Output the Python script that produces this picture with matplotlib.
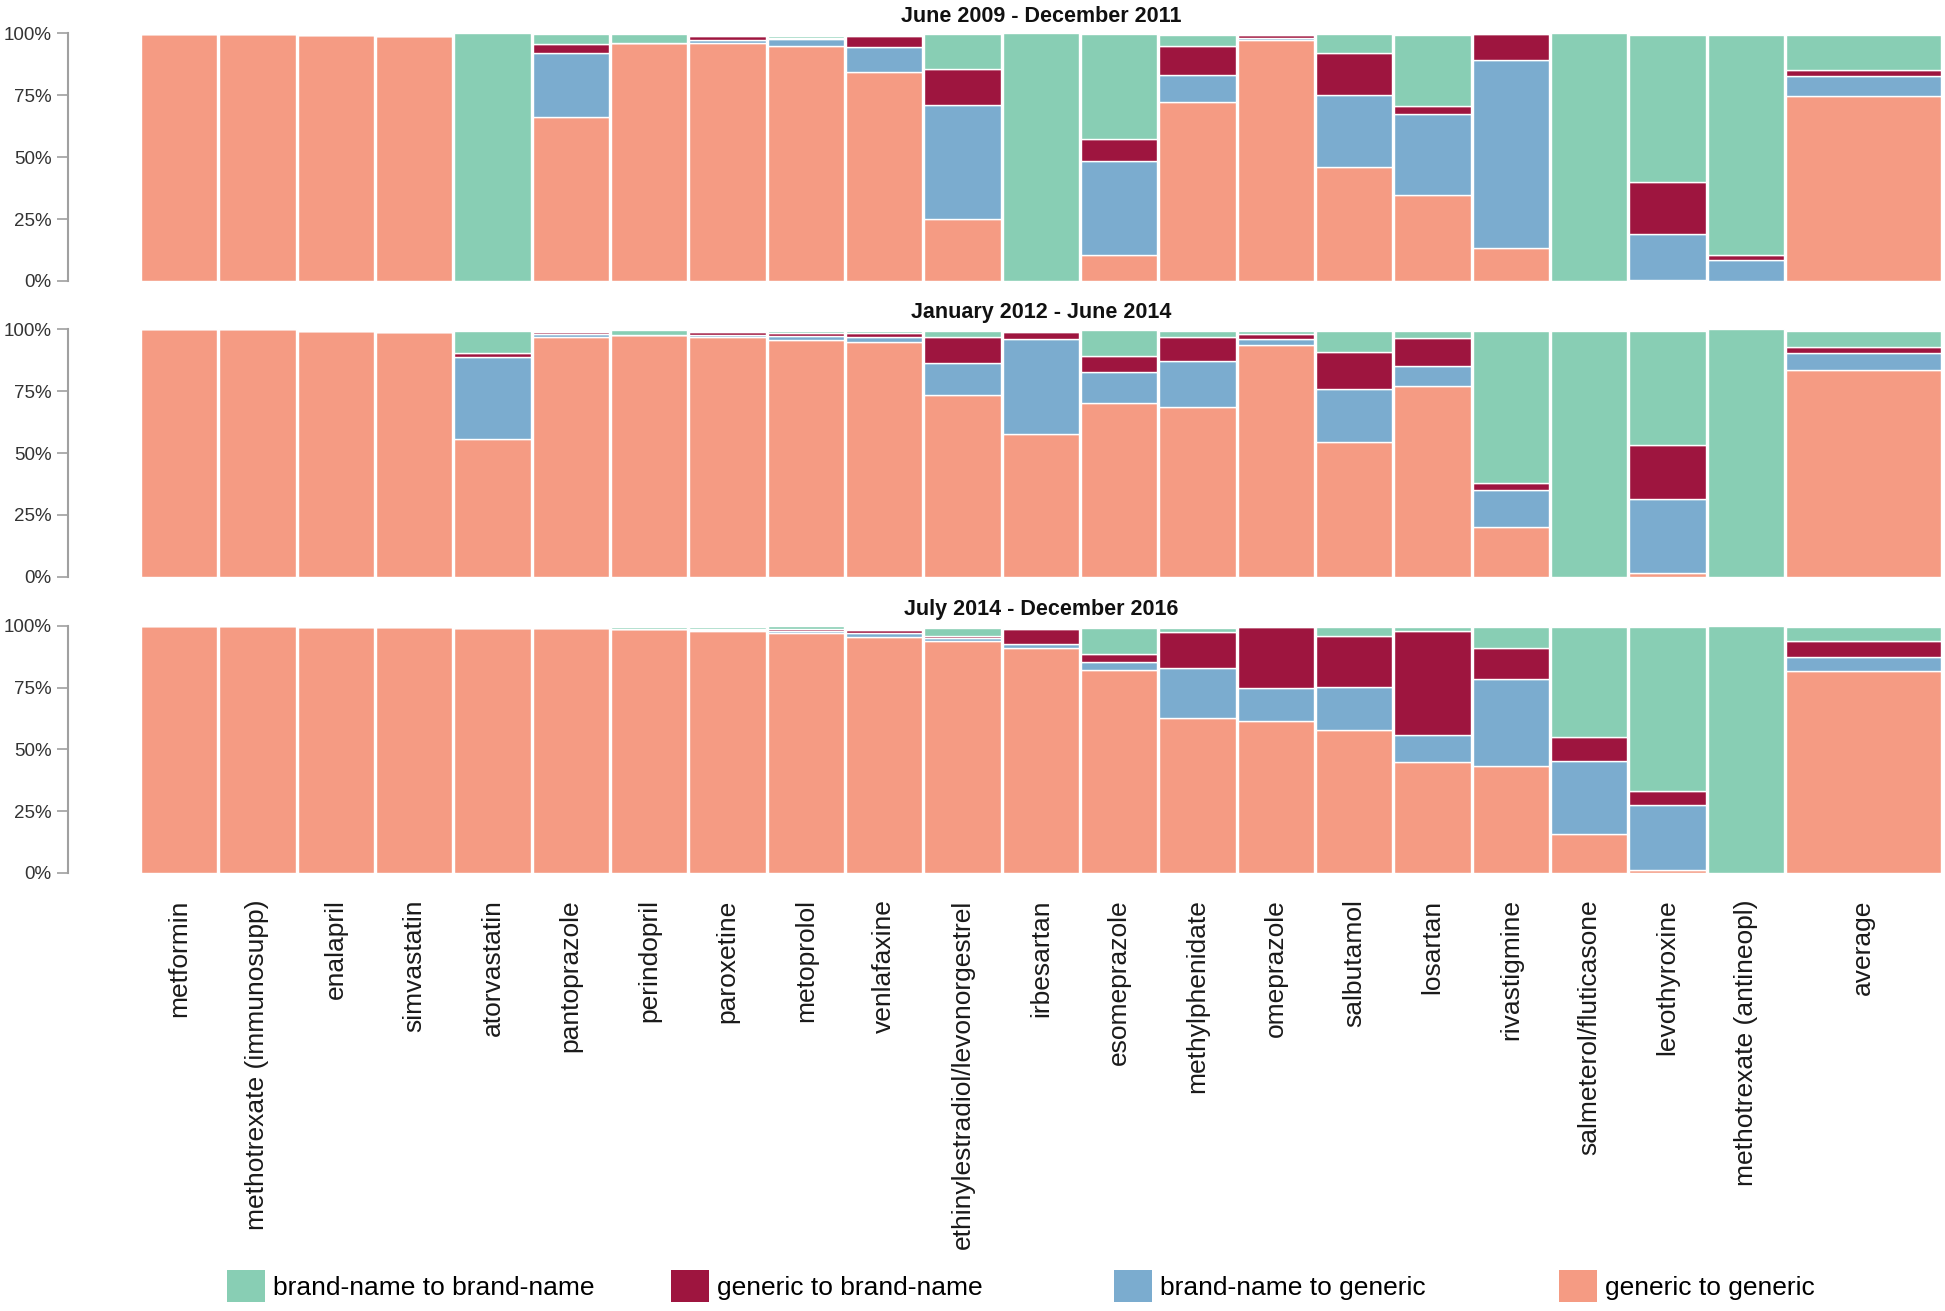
import matplotlib
matplotlib.use("Agg")
import matplotlib.pyplot as plt
import matplotlib.patches as mpatches
import matplotlib.transforms as mtransforms
import numpy as np

plt.rcParams['font.family'] = ['Liberation Sans', 'DejaVu Sans']

drugs = ["metformin", "methotrexate (immunosupp)", "enalapril", "simvastatin",
         "atorvastatin", "pantoprazole", "perindopril", "paroxetine", "metoprolol",
         "venlafaxine", "ethinylestradiol/levonorgestrel", "irbesartan", "esomeprazole",
         "methylphenidate", "omeprazole", "salbutamol", "losartan", "rivastigmine",
         "salmeterol/fluticasone", "levothyroxine", "methotrexate (antineopl)", "average"]

periods = ["June 2009 - December 2011", "January 2012 - June 2014", "July 2014 - December 2016"]

series_names = ["generic to generic", "brand-name to generic", "generic to brand-name", "brand-name to brand-name"]

# percentages, stacked bottom -> top
p1_gg = [99.7, 99.7, 99.3, 98.9, 0, 66.0, 96.2, 96.0, 95.0, 84.3, 25.2, 0, 10.5, 72.4, 97.2, 46.2, 34.7, 13.5, 0, 0.5, 0, 74.7]
p1_bg = [0, 0, 0, 0, 0, 26.0, 0, 1.2, 2.5, 10.0, 46.0, 0, 38.0, 10.8, 1.0, 29.0, 32.8, 75.8, 0, 18.3, 8.5, 8.2]
p1_gb = [0, 0, 0, 0, 0, 3.8, 0, 1.7, 0.8, 4.5, 14.3, 0, 8.8, 11.8, 1.0, 17.0, 3.2, 10.5, 0, 21.3, 2.0, 2.3]
p1_bb = [0, 0, 0, 0, 100, 4.0, 3.4, 0.6, 0.7, 0.5, 14.3, 100, 42.5, 4.5, 0.6, 7.5, 28.8, 0, 100, 59.4, 88.8, 14.2]

p2_gg = [100, 100, 99.3, 98.9, 55.7, 96.9, 97.7, 96.8, 95.7, 94.9, 73.3, 57.7, 70.1, 68.7, 93.5, 54.3, 77.2, 20.0, 0, 1.3, 0, 83.6]
p2_bg = [0, 0, 0, 0, 33.0, 1.3, 0, 1.0, 1.5, 1.8, 13.2, 38.4, 12.5, 18.6, 2.5, 21.4, 8.1, 15.0, 0, 30.0, 0, 6.9]
p2_gb = [0, 0, 0, 0, 1.8, 0.8, 0, 1.2, 1.2, 1.8, 10.5, 3.0, 6.5, 9.7, 2.2, 15.3, 11.3, 2.8, 0, 21.9, 0, 2.4]
p2_bb = [0, 0, 0, 0, 9.0, 0.5, 2.0, 0.4, 1.0, 0.8, 2.5, 0, 10.5, 2.5, 1.0, 8.5, 2.6, 61.7, 99.2, 46.3, 100, 6.6]

p3_gg = [99.7, 99.7, 99.3, 99.3, 98.9, 98.9, 98.5, 97.7, 96.9, 95.5, 93.9, 90.8, 82.0, 62.7, 61.6, 57.7, 44.7, 43.4, 15.9, 1.2, 0, 81.8]
p3_bg = [0, 0, 0, 0, 0, 0, 0, 0.5, 1.0, 1.5, 1.2, 2.0, 3.4, 20.3, 13.4, 17.7, 11.1, 35.0, 29.4, 26.2, 0, 5.4]
p3_gb = [0, 0, 0, 0, 0, 0, 0, 0.5, 0.8, 1.2, 0.9, 5.8, 3.2, 14.6, 24.5, 20.4, 41.9, 12.6, 9.5, 5.6, 0, 6.8]
p3_bb = [0, 0, 0, 0, 0, 0, 1.0, 0.8, 1.0, 0.6, 3.2, 0.5, 10.6, 1.6, 0, 3.6, 1.8, 8.4, 44.7, 66.5, 100, 5.4]

colors = ["#F59B83", "#7BACCF", "#9E153F", "#88CEB4"]


def draw_panel(ax, title, gg, bg, gb, bb, show_labels):
    n = len(drugs)
    left = np.arange(n, dtype=float)
    width = np.full(n, 0.975)
    width[-1] = 1.975  # average bar is double width
    bottom = np.zeros(n)
    for vals, c in zip([gg, bg, gb, bb], colors):
        v = np.array(vals) / 100.0
        ax.bar(left, v, width=width, bottom=bottom, align='edge', color=c,
               edgecolor='white', linewidth=1.0)
        bottom += v

    ax.set_xlim(-0.93, 22.975)
    ax.set_ylim(0, 1)
    for s in ['top', 'right', 'bottom']:
        ax.spines[s].set_visible(False)
    ax.spines['left'].set_color('#a0a0a0')
    ax.spines['left'].set_linewidth(1.5)
    ax.set_yticks([0, 0.25, 0.5, 0.75, 1.0])
    ax.set_yticklabels(["0%", "25%", "50%", "75%", "100%"], fontsize=13.5, color='#333333')
    ax.tick_params(axis='y', direction='out', length=8, width=1.2, color='#a0a0a0', pad=4)

    centers = left + width / 2
    if show_labels:
        ax.set_xticks(centers)
        ax.set_xticklabels(drugs, rotation=90, fontsize=19, color='#1a1a1a', va='top')
        ax.tick_params(axis='x', length=0, pad=19)
    else:
        ax.set_xticks([])

    trans = mtransforms.blended_transform_factory(ax.transData, ax.transAxes)
    mid = (left[0] + left[-1] + width[-1]) / 2
    ax.text(mid, 1.045, title, transform=trans, ha='center', va='baseline',
            fontsize=15.5, fontweight='bold', color='#111111')


def main():
    fig = plt.figure(figsize=(19.45, 13.11), dpi=100)
    l, w = 0.03496, 0.99779 - 0.03496
    boxes = [(0.7857, 0.1889), (0.5601, 0.1887), (0.3341, 0.1886)]
    data = [(p1_gg, p1_bg, p1_gb, p1_bb), (p2_gg, p2_bg, p2_gb, p2_bb), (p3_gg, p3_bg, p3_gb, p3_bb)]
    for i in range(3):
        ax = fig.add_axes([l, boxes[i][0], w, boxes[i][1]])
        draw_panel(ax, periods[i], *data[i], show_labels=(i == 2))

    # legend: evenly spaced items, order as in the reference
    order = [3, 2, 1, 0]
    xs = [0.1167, 0.345, 0.5728, 0.8015]
    for k, x in zip(order, xs):
        h = mpatches.Patch(facecolor=colors[k], edgecolor='none')
        fig.legend([h], [series_names[k]], loc='center left', bbox_to_anchor=(x, 0.019),
                   frameon=False, fontsize=19, handlelength=1.45, handleheight=1.45,
                   handletextpad=0.3, borderpad=0, borderaxespad=0)

    fig.savefig("out.png", dpi=100)


if __name__ == "__main__":
    main()
